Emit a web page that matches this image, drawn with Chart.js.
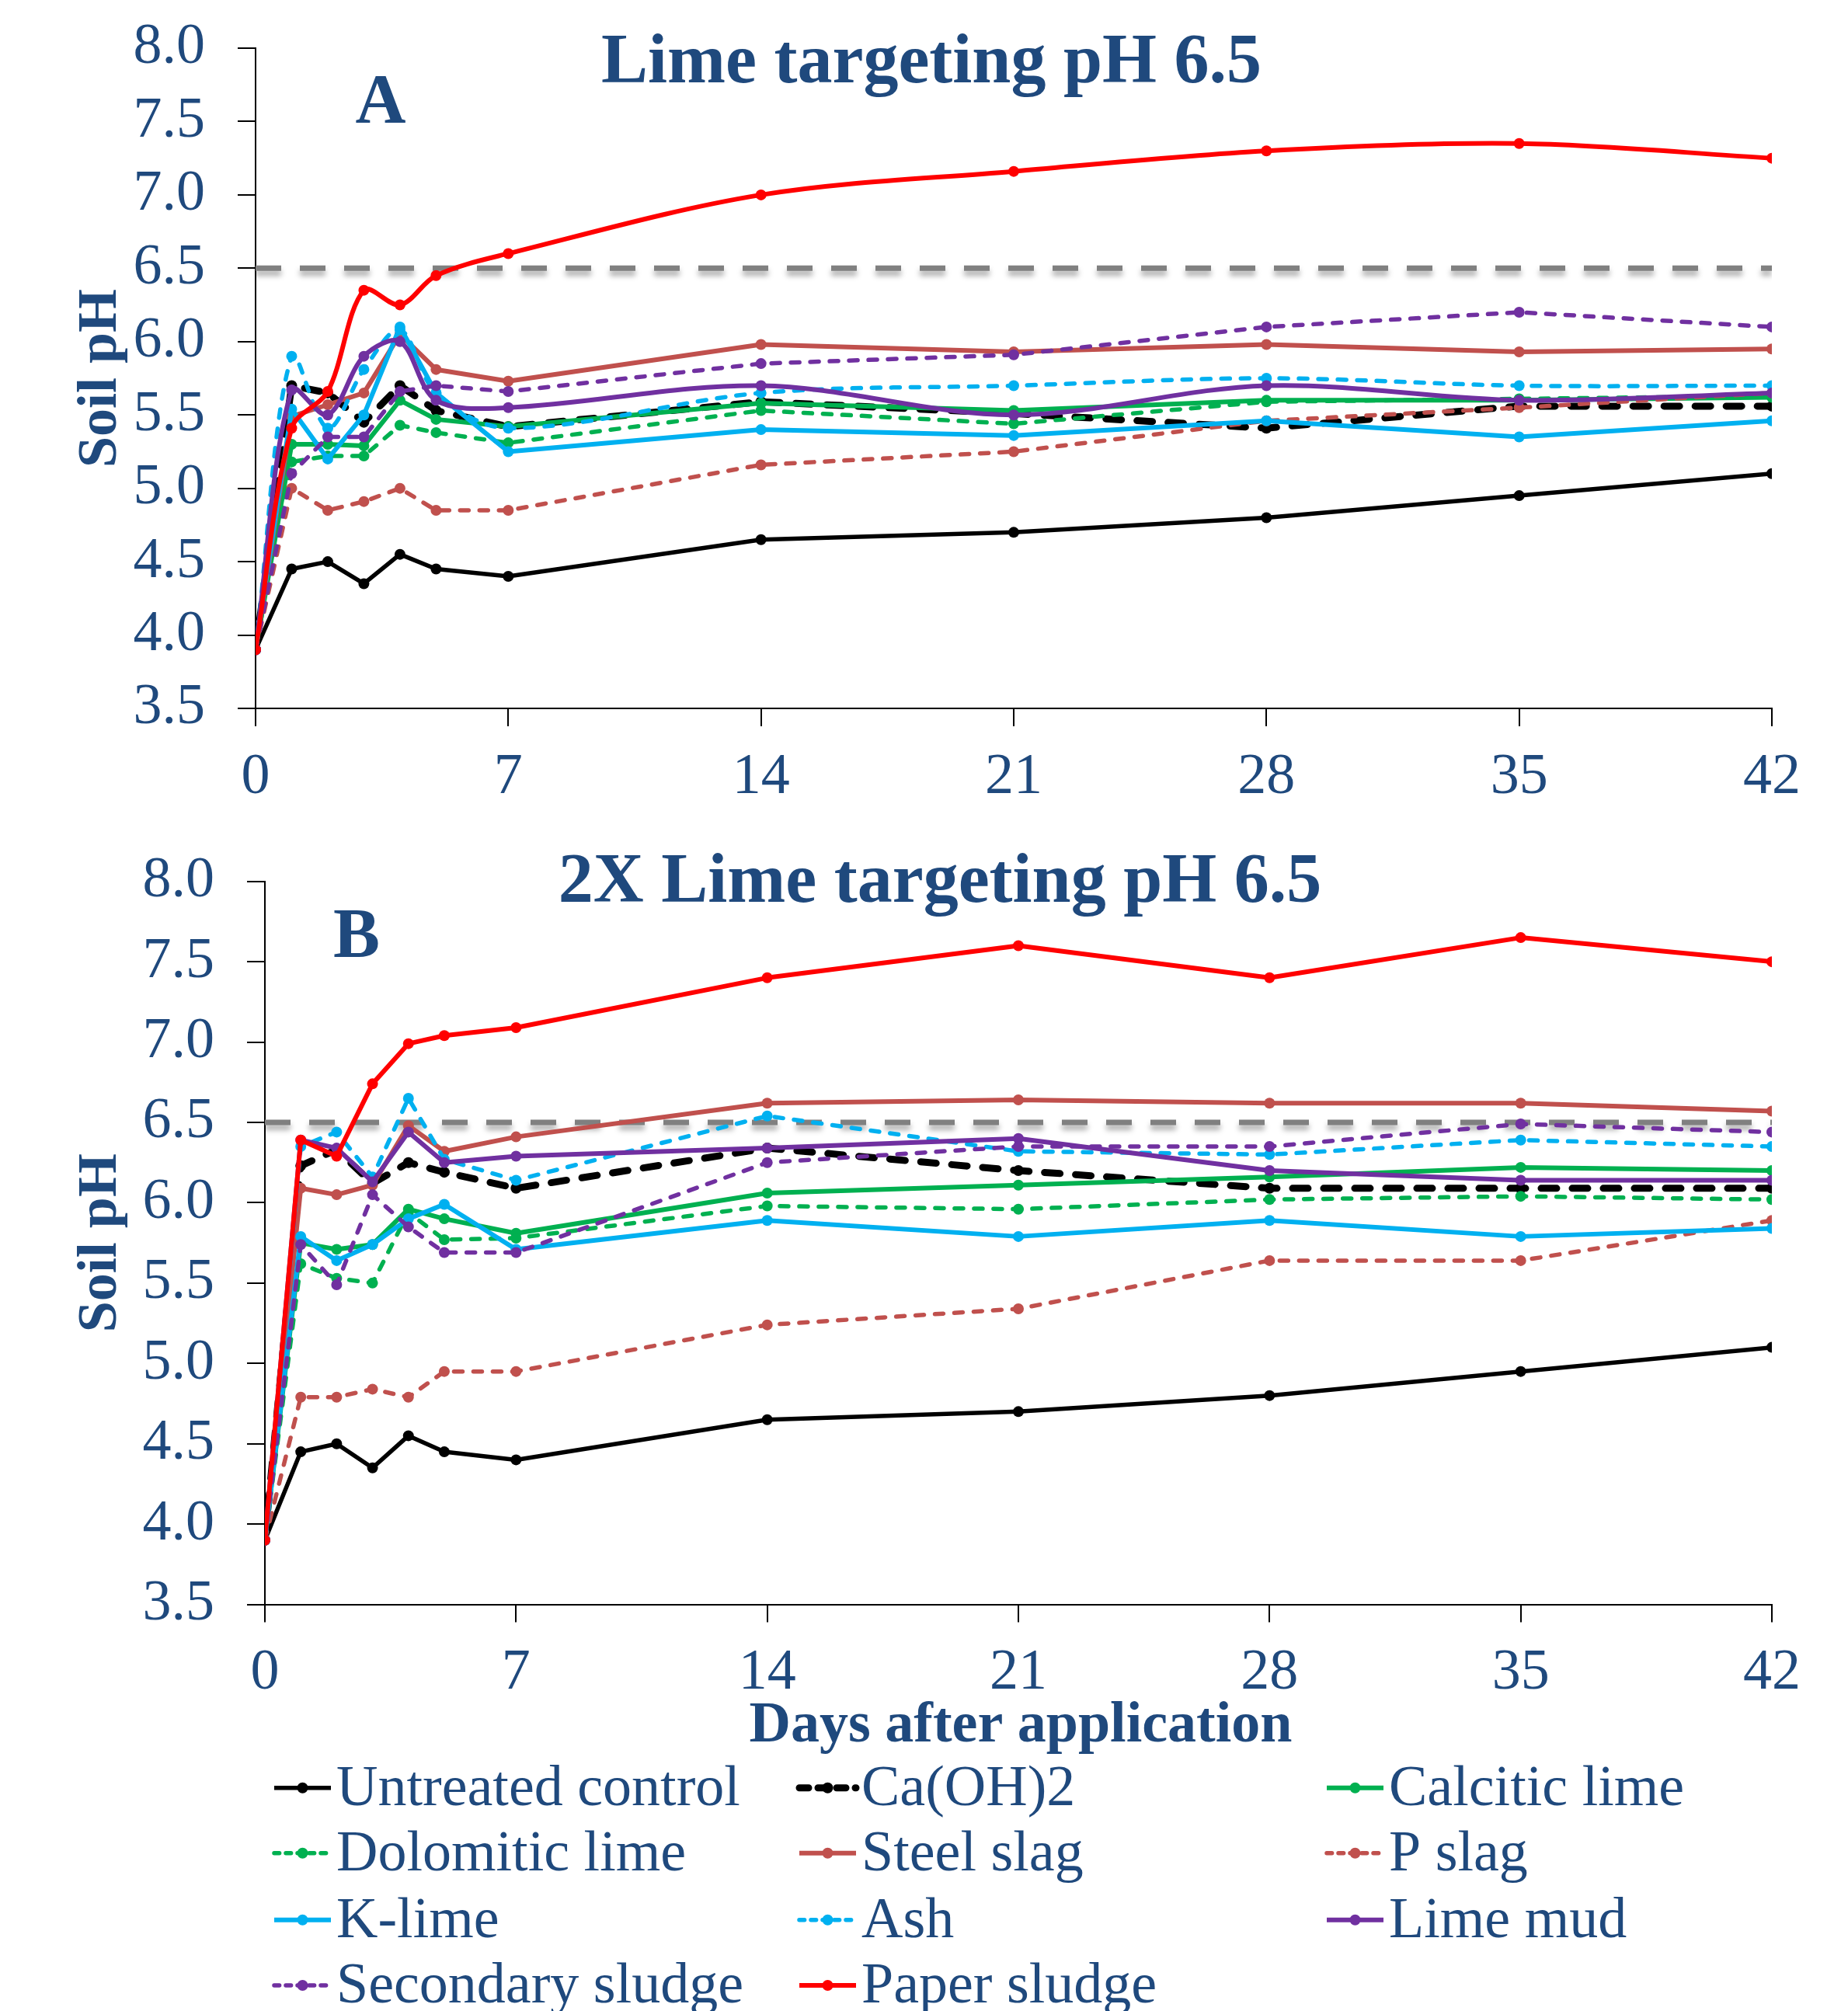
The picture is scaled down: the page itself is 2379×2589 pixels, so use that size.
<!DOCTYPE html>
<html>
<head>
<meta charset="utf-8">
<script src="https://cdn.jsdelivr.net/npm/chart.js@4"></script>
<style>
  body { margin: 0; background: #fff; }
  #wrap { position: relative; width: 2379px; height: 2589px; overflow: hidden; background: #fff; }
  canvas { position: absolute; left: 0; }
</style>
</head>
<body>
<div id="wrap">
  <canvas id="chartA" width="2379" height="1060" style="top:0"></canvas>
  <canvas id="chartB" width="2379" height="1529" style="top:1060px"></canvas>
</div>
<script>
// Days after application
const days = [0, 1, 2, 3, 4, 5, 7, 14, 21, 28, 35, 42];
const seriesNames = ['Untreated control', 'Ca(OH)2', 'Calcitic lime', 'Dolomitic lime', 'Steel slag',
  'P slag', 'K-lime', 'Ash', 'Lime mud', 'Secondary sludge', 'Paper sludge'];
const targetPH = 6.5;
const yTicks = { min: 3.5, max: 8.0, step: 0.5 };
const xTicks = { min: 0, max: 42, step: 7 };

// A - Lime targeting pH 6.5
const untreatedA = [3.9, 4.45, 4.5, 4.35, 4.55, 4.45, 4.4, 4.65, 4.7, 4.8, 4.95, 5.1];
const caOH2A     = [3.9, 5.7, 5.65, 5.45, 5.7, 5.53, 5.42, 5.59, 5.51, 5.41, 5.56, 5.56];
const calciticA  = [3.9, 5.3, 5.3, 5.29, 5.6, 5.47, 5.42, 5.58, 5.53, 5.6, 5.6, 5.62];
const dolomiticA = [3.9, 5.18, 5.22, 5.22, 5.43, 5.38, 5.31, 5.53, 5.44, 5.59, 5.61, 5.63];
const steelSlagA = [3.9, 5.49, 5.57, 5.65, 6.05, 5.81, 5.73, 5.98, 5.93, 5.98, 5.93, 5.95];
const pSlagA     = [3.9, 5.0, 4.85, 4.91, 5.0, 4.85, 4.85, 5.16, 5.25, 5.46, 5.55, 5.65];
const kLimeA     = [3.9, 5.54, 5.2, 5.5, 6.1, 5.65, 5.25, 5.4, 5.36, 5.46, 5.35, 5.46];
const ashA       = [3.9, 5.9, 5.41, 5.81, 6.08, 5.65, 5.41, 5.65, 5.7, 5.75, 5.7, 5.7];
const limeMudA   = [3.9, 5.67, 5.5, 5.9, 6.0, 5.6, 5.55, 5.7, 5.5, 5.7, 5.6, 5.65];
const secSludgeA = [3.9, 5.1, 5.35, 5.35, 5.66, 5.7, 5.66, 5.85, 5.91, 6.1, 6.2, 6.1];
const paperA     = [3.9, 5.41, 5.66, 6.35, 6.25, 6.45, 6.6, 7.0, 7.16, 7.3, 7.35, 7.25];

// B - 2X Lime targeting pH 6.5
const untreatedB = [3.9, 4.45, 4.5, 4.35, 4.55, 4.45, 4.4, 4.65, 4.7, 4.8, 4.95, 5.1];
const caOH2B     = [3.9, 6.23, 6.33, 6.12, 6.25, 6.19, 6.09, 6.34, 6.2, 6.09, 6.09, 6.09];
const calciticB  = [3.9, 5.75, 5.71, 5.74, 5.96, 5.9, 5.81, 6.06, 6.11, 6.16, 6.22, 6.2];
const dolomiticB = [3.9, 5.62, 5.53, 5.5, 5.94, 5.77, 5.78, 5.98, 5.96, 6.02, 6.04, 6.02];
const steelSlagB = [3.9, 6.09, 6.05, 6.11, 6.48, 6.32, 6.41, 6.62, 6.64, 6.62, 6.62, 6.57];
const pSlagB     = [3.9, 4.79, 4.79, 4.84, 4.79, 4.95, 4.95, 5.24, 5.34, 5.64, 5.64, 5.89];
const kLimeB     = [3.9, 5.79, 5.64, 5.74, 5.9, 5.99, 5.71, 5.89, 5.79, 5.89, 5.79, 5.84];
const ashB       = [3.9, 6.35, 6.44, 6.16, 6.65, 6.27, 6.14, 6.54, 6.32, 6.3, 6.39, 6.35];
const limeMudB   = [3.9, 6.39, 6.34, 6.13, 6.44, 6.25, 6.29, 6.34, 6.4, 6.2, 6.14, 6.14];
const secSludgeB = [3.9, 5.74, 5.49, 6.05, 5.85, 5.69, 5.69, 6.25, 6.35, 6.35, 6.49, 6.44];
const paperB     = [3.9, 6.39, 6.29, 6.74, 6.99, 7.04, 7.09, 7.4, 7.6, 7.4, 7.65, 7.5];

const valuesA = [untreatedA, caOH2A, calciticA, dolomiticA, steelSlagA, pSlagA, kLimeA, ashA, limeMudA, secSludgeA, paperA];
const valuesB = [untreatedB, caOH2B, calciticB, dolomiticB, steelSlagB, pSlagB, kLimeB, ashB, limeMudB, secSludgeB, paperB];
// smoothed lines in panel A (Ash, Lime mud, Paper sludge)
const smoothA = [false, false, false, false, false, false, false, true, true, false, true];
const smoothB = [false, false, false, false, false, false, false, false, false, false, false];

// styles
const textColor = '#1F497D';
const fontFamily = '"Liberation Serif", "Times New Roman", serif';
const seriesStyle = [
  { color: '#000000', dash: [], width: 5.5 },
  { color: '#000000', dash: [20, 20], width: 9 },
  { color: '#00B050', dash: [], width: 6 },
  { color: '#00B050', dash: [11, 14], width: 5.5 },
  { color: '#C0504D', dash: [], width: 6 },
  { color: '#C0504D', dash: [11, 14], width: 5.5 },
  { color: '#00B0F0', dash: [], width: 6 },
  { color: '#00B0F0', dash: [11, 14], width: 5.5 },
  { color: '#7030A0', dash: [], width: 6 },
  { color: '#7030A0', dash: [11, 14], width: 5.5 },
  { color: '#FF0000', dash: [], width: 6 }
];

Chart.defaults.font.family = fontFamily;

function makeDatasets(values, smooth) {
  const sets = values.map((vals, i) => ({
    label: seriesNames[i],
    data: days.map((d, k) => ({ x: d, y: vals[k] })),
    borderColor: seriesStyle[i].color,
    backgroundColor: seriesStyle[i].color,
    borderWidth: seriesStyle[i].width,
    borderDash: seriesStyle[i].dash,
    borderCapStyle: seriesStyle[i].dash.length ? 'round' : 'butt',
    borderJoinStyle: 'round',
    pointRadius: 7,
    pointBorderWidth: 0,
    pointBackgroundColor: seriesStyle[i].color,
    tension: smooth[i] ? 0.33 : 0,
    fill: false,
    order: 20 - i
  }));
  // target pH reference line
  sets.push({
    label: 'target',
    isRef: true,
    data: [{ x: xTicks.min, y: targetPH }, { x: xTicks.max, y: targetPH }],
    borderColor: '#808080',
    borderWidth: 7,
    borderDash: [33, 24],
    pointRadius: 0,
    fill: false,
    order: 100
  });
  return sets;
}

// shadow under the reference line
const refShadow = {
  id: 'refShadow',
  beforeDatasetDraw(chart, args) {
    if (chart.data.datasets[args.index].isRef) {
      const ctx = chart.ctx;
      ctx.save();
      ctx.shadowColor = 'rgba(0,0,0,0.35)';
      ctx.shadowBlur = 7;
      ctx.shadowOffsetY = 6;
    }
  },
  afterDatasetDraw(chart, args) {
    if (chart.data.datasets[args.index].isRef) chart.ctx.restore();
  }
};

// panel title, letter, y-axis title, and (panel B) x-axis title + legend
const panelText = {
  id: 'panelText',
  afterDraw(chart, args, opts) {
    const ctx = chart.ctx;
    const area = chart.chartArea;
    ctx.save();
    ctx.fillStyle = textColor;
    ctx.textAlign = 'center';
    ctx.textBaseline = 'alphabetic';
    ctx.font = 'bold 90px ' + fontFamily;
    ctx.fillText(opts.title, opts.titleX, opts.titleY);
    ctx.fillText(opts.letter, opts.letterX, opts.letterY);

    ctx.save();
    ctx.font = 'bold 72px ' + fontFamily;
    ctx.translate(149, (area.top + area.bottom) / 2);
    ctx.rotate(-Math.PI / 2);
    ctx.fillText('Soil pH', 0, 0);
    ctx.restore();

    if (opts.legend) {
      ctx.font = 'bold 74px ' + fontFamily;
      ctx.fillText('Days after application', 1314, opts.xTitleY);

      const colX = [353, 1029, 1708];
      const rowY = [1241.7, 1325.7, 1411.7, 1496];
      ctx.font = '74px ' + fontFamily;
      ctx.textAlign = 'left';
      seriesNames.forEach((name, i) => {
        const st = seriesStyle[i];
        const x0 = colX[i % 3];
        const y = rowY[Math.floor(i / 3)];
        ctx.save();
        ctx.strokeStyle = st.color;
        ctx.lineWidth = st.width;
        ctx.setLineDash(st.dash.map(v => v * 0.6));
        ctx.lineCap = st.dash.length ? 'round' : 'butt';
        ctx.beginPath();
        ctx.moveTo(x0, y);
        ctx.lineTo(x0 + 73, y);
        ctx.stroke();
        ctx.setLineDash([]);
        ctx.fillStyle = st.color;
        ctx.beginPath();
        ctx.arc(x0 + 36.5, y, 7, 0, Math.PI * 2);
        ctx.fill();
        ctx.restore();
        ctx.fillText(name, x0 + 80, y + 22);
      });
    }
    ctx.restore();
  }
};

function axisOptions(cfg) {
  const axisGrid = { drawOnChartArea: false, drawTicks: true, tickLength: 23, color: '#000', lineWidth: 2 };
  const axisBorder = { display: true, color: '#000', width: 2 };
  return {
    x: {
      type: 'linear', min: xTicks.min, max: xTicks.max,
      afterFit: s => { s.height = cfg.xHeight; },
      ticks: { stepSize: xTicks.step, color: textColor, font: { size: 74 }, padding: 22, maxRotation: 0, autoSkip: false },
      grid: axisGrid, border: axisBorder
    },
    y: {
      min: yTicks.min, max: yTicks.max,
      // fixed axis width; label overflow must not push the plot area down
      afterFit: s => { s.width = cfg.yWidth; s.paddingTop = 0; s.paddingBottom = 0; },
      ticks: { stepSize: yTicks.step, color: textColor, font: { size: 74 }, padding: 42, autoSkip: false,
        callback: v => Number(v).toFixed(1) },
      grid: axisGrid, border: axisBorder
    }
  };
}

function buildChart(canvasId, values, smooth, cfg) {
  return new Chart(document.getElementById(canvasId), {
    type: 'line',
    data: { datasets: makeDatasets(values, smooth) },
    options: {
      responsive: false,
      animation: false,
      devicePixelRatio: 1,
      layout: { padding: { top: cfg.top, right: 98, left: 0, bottom: 0 } },
      plugins: {
        legend: { display: false },
        tooltip: { enabled: false },
        panelText: cfg.text
      },
      scales: axisOptions(cfg)
    },
    plugins: [refShadow, panelText]
  });
}

buildChart('chartA', valuesA, smoothA, {
  top: 62, xHeight: 1060 - 912, yWidth: 329,
  text: { title: 'Lime targeting pH 6.5', titleX: 1199, titleY: 106, letter: 'A', letterX: 490, letterY: 158, legend: false }
});

buildChart('chartB', valuesB, smoothB, {
  top: 74.7, xHeight: 1529 - 1005.6, yWidth: 341,
  text: { title: '2X Lime targeting pH 6.5', titleX: 1210, titleY: 101, letter: 'B', letterX: 459, letterY: 172,
    legend: true, xTitleY: 1182 }
});
</script>
</body>
</html>
